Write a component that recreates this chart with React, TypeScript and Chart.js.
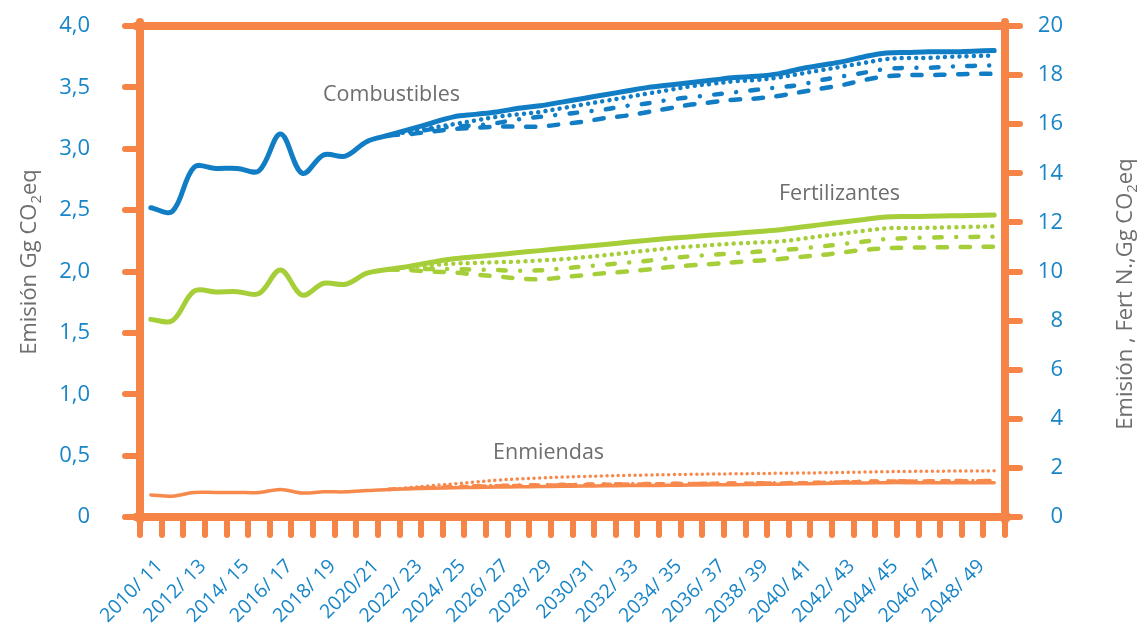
import { useEffect, useRef } from "react";
import { Chart, registerables } from "chart.js";

Chart.register(...registerables);

const categories = [
  "2010/ 11", "2011/ 12", "2012/ 13", "2013/ 14", "2014/ 15", "2015/ 16", "2016/ 17", "2017/ 18",
  "2018/ 19", "2019/ 20", "2020/21", "2021/ 22", "2022/ 23", "2023/ 24", "2024/ 25", "2025/ 26",
  "2026/ 27", "2027/ 28", "2028/ 29", "2029/ 30", "2030/31", "2031/ 32", "2032/ 33", "2033/ 34",
  "2034/ 35", "2035/ 36", "2036/ 37", "2037/ 38", "2038/ 39", "2039/ 40", "2040/ 41", "2041/ 42",
  "2042/ 43", "2043/ 44", "2044/ 45", "2045/ 46", "2046/ 47", "2047/ 48", "2048/ 49", "2049/ 50",
];

const leftTickLabels = ["0", "0,5", "1,0", "1,5", "2,0", "2,5", "3,0", "3,5", "4,0"];
const rightTickLabels = ["0", "2", "4", "6", "8", "10", "12", "14", "16", "18", "20"];

const N = null;

// Combustibles (left axis, Gg CO2eq)
const combustiblesBase = [
  2.52, 2.49, 2.85, 2.84, 2.84, 2.82, 3.12, 2.8, 2.95, 2.94, 3.06, 3.11, 3.16, 3.21, 3.26, 3.28,
  3.3, 3.33, 3.35, 3.38, 3.41, 3.44, 3.47, 3.5, 3.52, 3.54, 3.56, 3.58, 3.59, 3.61, 3.65, 3.68,
  3.71, 3.75, 3.78, 3.785, 3.79, 3.79, 3.795, 3.8,
];
const combustiblesDotted = [
  N, N, N, N, N, N, N, N, N, N, N, 3.11, 3.14, 3.17, 3.2, 3.23, 3.26, 3.28, 3.3, 3.33, 3.36,
  3.39, 3.42, 3.45, 3.48, 3.51, 3.53, 3.55, 3.56, 3.58, 3.61, 3.64, 3.67, 3.7, 3.73, 3.74, 3.74,
  3.75, 3.755, 3.76,
];
const combustiblesDashDot = [
  N, N, N, N, N, N, N, N, N, N, N, 3.11, 3.13, 3.16, 3.18, 3.19, 3.21, 3.24, 3.26, 3.28, 3.3,
  3.32, 3.35, 3.37, 3.4, 3.42, 3.44, 3.46, 3.48, 3.5, 3.52, 3.56, 3.59, 3.62, 3.65, 3.66, 3.66,
  3.67, 3.675, 3.68,
];
const combustiblesDashed = [
  N, N, N, N, N, N, N, N, N, N, N, 3.11, 3.12, 3.14, 3.16, 3.17, 3.18, 3.18, 3.18, 3.2, 3.22,
  3.25, 3.27, 3.3, 3.33, 3.36, 3.38, 3.4, 3.41, 3.43, 3.46, 3.49, 3.52, 3.56, 3.59, 3.6, 3.6,
  3.605, 3.61, 3.61,
];

// Fertilizantes (right axis, Fert N, Gg CO2eq)
const fertilizantesBase = [
  8.05, 8.0, 9.2, 9.17, 9.18, 9.1, 10.06, 9.04, 9.52, 9.48, 9.93, 10.09, 10.22, 10.38, 10.52,
  10.6, 10.68, 10.77, 10.85, 10.94, 11.02, 11.1, 11.19, 11.27, 11.35, 11.42, 11.49, 11.55, 11.62,
  11.69, 11.8, 11.91, 12.02, 12.12, 12.22, 12.24, 12.25, 12.27, 12.28, 12.3,
];
const fertilizantesDotted = [
  N, N, N, N, N, N, N, N, N, N, N, 10.09, 10.18, 10.26, 10.32, 10.35, 10.38, 10.4, 10.45, 10.5,
  10.58, 10.66, 10.76, 10.86, 10.95, 11.02, 11.08, 11.14, 11.18, 11.22, 11.32, 11.44, 11.55,
  11.66, 11.76, 11.77, 11.78, 11.8, 11.82, 11.85,
];
const fertilizantesDashDot = [
  N, N, N, N, N, N, N, N, N, N, N, 10.09, 10.1, 10.1, 10.1, 10.08, 10.06, 10.03, 10.05, 10.12,
  10.2, 10.28, 10.36, 10.44, 10.54, 10.62, 10.68, 10.74, 10.8, 10.86, 10.93, 11.02, 11.12, 11.22,
  11.32, 11.36, 11.38, 11.4, 11.41, 11.42,
];
const fertilizantesDashed = [
  N, N, N, N, N, N, N, N, N, N, N, 10.09, 10.05, 10.0, 9.96, 9.88, 9.8, 9.72, 9.68, 9.76, 9.85,
  9.93, 10.0, 10.08, 10.18, 10.25, 10.31, 10.38, 10.44, 10.5, 10.59, 10.67, 10.78, 10.88, 10.95,
  10.97, 10.98, 10.99, 11.0, 11.01,
];

// Enmiendas (left axis, Gg CO2eq)
const enmiendasBase = [
  0.18, 0.17, 0.2, 0.2, 0.2, 0.2, 0.225, 0.195, 0.205, 0.205, 0.215, 0.225, 0.23, 0.235, 0.238,
  0.241, 0.244, 0.246, 0.248, 0.25, 0.252, 0.254, 0.256, 0.257, 0.258, 0.26, 0.262, 0.263, 0.265,
  0.267, 0.27, 0.273, 0.276, 0.278, 0.28, 0.28, 0.28, 0.28, 0.28, 0.28,
];
const enmiendasDotted = [
  N, N, N, N, N, N, N, N, N, N, N, 0.225, 0.24, 0.255, 0.27, 0.285, 0.3, 0.31, 0.318, 0.325, 0.33,
  0.335, 0.339, 0.342, 0.345, 0.348, 0.35, 0.352, 0.354, 0.356, 0.358, 0.36, 0.363, 0.366, 0.369,
  0.371, 0.373, 0.374, 0.375, 0.376,
];
const enmiendasDashDot = [
  N, N, N, N, N, N, N, N, N, N, N, 0.225, 0.235, 0.243, 0.25, 0.255, 0.258, 0.261, 0.264, 0.266,
  0.268, 0.27, 0.272, 0.273, 0.274, 0.275, 0.276, 0.277, 0.278, 0.279, 0.281, 0.284, 0.288, 0.292,
  0.295, 0.296, 0.296, 0.297, 0.297, 0.298,
];
const enmiendasDashed = [
  N, N, N, N, N, N, N, N, N, N, N, 0.225, 0.233, 0.24, 0.246, 0.25, 0.254, 0.257, 0.26, 0.262,
  0.264, 0.266, 0.268, 0.27, 0.272, 0.273, 0.274, 0.275, 0.276, 0.277, 0.279, 0.282, 0.286, 0.29,
  0.293, 0.294, 0.294, 0.295, 0.295, 0.296,
];

const BLUE = "#117dc4";
const GREEN = "#a6ce39";
const ORANGE = "#f58446";
const ORANGE_LINE = "#f7894c";
const TICK_BLUE = "#1785c8";
const GRAY = "#6e6e6e";
const FONT = "'Open Sans', 'Noto Sans', sans-serif";

type Part = { text: string; sub?: boolean };

function drawVerticalTitle(
  ctx: CanvasRenderingContext2D,
  parts: Part[],
  cx: number,
  cy: number,
  size: number
) {
  ctx.save();
  ctx.translate(cx, cy);
  ctx.rotate(-Math.PI / 2);
  ctx.fillStyle = GRAY;
  ctx.textBaseline = "middle";
  ctx.textAlign = "left";
  const subSize = size * 0.68;
  const widths = parts.map((p) => {
    ctx.font = `${p.sub ? subSize : size}px ${FONT}`;
    return ctx.measureText(p.text).width;
  });
  const total = widths.reduce((a, b) => a + b, 0);
  let x = -total / 2;
  parts.forEach((p, i) => {
    ctx.font = `${p.sub ? subSize : size}px ${FONT}`;
    ctx.fillText(p.text, x, p.sub ? size * 0.32 : 0);
    x += widths[i];
  });
  ctx.restore();
}

const decorPlugin = {
  id: "decor",
  beforeDraw(chart: any) {
    chart.ctx.lineCap = "round";
  },
  afterDraw(chart: any) {
    const ctx: CanvasRenderingContext2D = chart.ctx;
    drawVerticalTitle(
      ctx,
      [{ text: "Emisión Gg CO" }, { text: "2", sub: true }, { text: "eq" }],
      30,
      262,
      22
    );
    drawVerticalTitle(
      ctx,
      [{ text: "Emisión , Fert N.,Gg CO" }, { text: "2", sub: true }, { text: "eq" }],
      1126,
      294,
      22
    );
    ctx.save();
    ctx.fillStyle = GRAY;
    ctx.textBaseline = "middle";
    ctx.textAlign = "left";
    ctx.font = `21.5px ${FONT}`;
    ctx.fillText("Combustibles", 323, 95);
    ctx.fillText("Fertilizantes", 779, 194);
    ctx.fillText("Enmiendas", 493, 453);
    ctx.restore();
  },
};

function lineDs(
  data: (number | null)[],
  color: string,
  axis: string,
  style: "solid" | "dotted" | "dashdot" | "dashed",
  width: number
) {
  let dash: number[] = [];
  if (style === "dotted") dash = [0.01, width * 1.6];
  if (style === "dashdot") dash = [width * 1.7, width * 3.2, 0.01, width * 3.2];
  if (style === "dashed") dash = [width * 2.1, width * 3.0];
  return {
    data,
    borderColor: color,
    backgroundColor: color,
    borderWidth: width,
    borderDash: dash,
    borderCapStyle: "round",
    borderJoinStyle: "round",
    pointRadius: 0,
    pointHoverRadius: 0,
    tension: 0.35,
    fill: false,
    yAxisID: axis,
    spanGaps: false,
  };
}

const noVerticalPadding = (s: any, width: number) => {
  s.width = width;
  s.paddingTop = 0;
  s.paddingBottom = 0;
};

export default function App() {
  const ref = useRef<HTMLCanvasElement | null>(null);

  useEffect(() => {
    if (!ref.current) return;
    const chart = new Chart(ref.current, {
      type: "line",
      data: {
        labels: categories,
        datasets: [
          lineDs(enmiendasDashed, ORANGE_LINE, "y", "dashed", 3.5),
          lineDs(enmiendasDashDot, ORANGE_LINE, "y", "dashdot", 3.5),
          lineDs(enmiendasDotted, ORANGE_LINE, "y", "dotted", 3.5),
          lineDs(enmiendasBase, ORANGE_LINE, "y", "solid", 3.5),
          lineDs(fertilizantesDashed, GREEN, "y1", "dashed", 4.5),
          lineDs(fertilizantesDashDot, GREEN, "y1", "dashdot", 4.5),
          lineDs(fertilizantesDotted, GREEN, "y1", "dotted", 4.5),
          lineDs(fertilizantesBase, GREEN, "y1", "solid", 5),
          lineDs(combustiblesDashed, BLUE, "y", "dashed", 4.5),
          lineDs(combustiblesDashDot, BLUE, "y", "dashdot", 4.5),
          lineDs(combustiblesDotted, BLUE, "y", "dotted", 4.5),
          lineDs(combustiblesBase, BLUE, "y", "solid", 5),
        ] as any,
      },
      options: {
        animation: false,
        responsive: true,
        maintainAspectRatio: false,
        events: [],
        layout: { padding: { top: 26, right: 80, left: 0, bottom: 0 } },
        plugins: {
          legend: { display: false },
          tooltip: { enabled: false },
          title: { display: false },
        },
        scales: {
          x: {
            type: "category",
            position: "bottom",
            offset: true,
            grid: {
              offset: true,
              drawOnChartArea: false,
              drawTicks: true,
              tickLength: 18,
              color: ORANGE,
              lineWidth: 6,
            },
            border: { display: true, color: ORANGE, width: 8 },
            ticks: {
              autoSkip: false,
              maxRotation: 45,
              minRotation: 45,
              padding: 20,
              labelOffset: 9,
              color: TICK_BLUE,
              font: { family: FONT, size: 19.5 },
              callback: (_v: any, i: number) => (i % 2 === 0 ? categories[i] : ""),
            },
            afterFit: (s: any) => {
              s.height = 120;
              s.paddingLeft = 0;
              s.paddingRight = 0;
            },
          },
          xTop: {
            type: "category",
            position: "top",
            offset: true,
            grid: { display: false, drawTicks: false },
            ticks: { display: false },
            border: { display: true, color: ORANGE, width: 8 },
            afterFit: (s: any) => {
              s.height = 0;
            },
          },
          y: {
            position: "left",
            min: 0,
            max: 4,
            ticks: {
              stepSize: 0.5,
              padding: 35,
              color: TICK_BLUE,
              font: { family: FONT, size: 22 },
              callback: (v: any) => leftTickLabels[Math.round(Number(v) / 0.5)],
            },
            grid: {
              drawOnChartArea: false,
              drawTicks: true,
              tickLength: 15,
              color: ORANGE,
              lineWidth: 6,
            },
            border: { display: true, color: ORANGE, width: 8 },
            afterFit: (s: any) => noVerticalPadding(s, 140),
          },
          y1: {
            position: "right",
            min: 0,
            max: 20,
            ticks: {
              stepSize: 2,
              crossAlign: "far",
              color: TICK_BLUE,
              font: { family: FONT, size: 22 },
              callback: (v: any) => rightTickLabels[Math.round(Number(v) / 2)],
            },
            grid: {
              drawOnChartArea: false,
              drawTicks: true,
              tickLength: 15,
              color: ORANGE,
              lineWidth: 6,
            },
            border: { display: true, color: ORANGE, width: 8 },
            afterFit: (s: any) => noVerticalPadding(s, 58),
          },
        },
      } as any,
      plugins: [decorPlugin],
    });
    return () => chart.destroy();
  }, []);

  return (
    <div style={{ position: "fixed", left: 0, top: 0, width: 1143, height: 637, background: "#fff" }}>
      <canvas ref={ref} />
    </div>
  );
}
